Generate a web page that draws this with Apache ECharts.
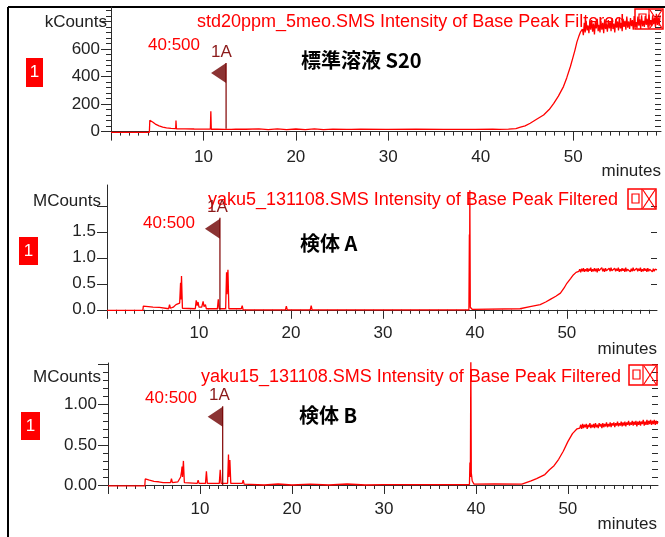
<!DOCTYPE html>
<html>
<head>
<meta charset="utf-8">
<script src="https://cdn.jsdelivr.net/npm/echarts@6/dist/echarts.min.js"></script>
<style>
html, body { margin: 0; padding: 0; background: #fff; }
#chart { width: 665px; height: 537px; }
</style>
</head>
<body>
<div id="chart"></div>
<script>
// traces: [minutes, intensity]
const stdTrace = [
    [0, -5], [4.15, -5], [4.2, 82], [4.5, 70], [4.8, 55], [5.2, 42], [5.6, 33], [6.0, 27], [6.5, 24],
    [7.0, 22], [7.03, 80], [7.08, 20], [8.0, 20], [9.0, 19], [10.75, 18], [10.8, 148], [10.85, 17],
    [11.5, 17], [12.3, 16], [13.0, 16], [13.5, 18], [14.6, 17], [14.65, 30], [14.7, 17], [16.0, 20],
    [17.0, 14], [18.0, 20], [19.0, 15], [20.0, 19], [21.0, 14], [22.0, 20], [23.0, 15], [24.0, 18],
    [25.5, 16], [25.55, 28], [26.0, 16], [27.0, 17], [29.7, 16], [29.75, 27], [30.0, 16], [33.0, 17],
    [36.0, 16], [39.4, 16], [39.45, 26], [39.5, 16], [41.3, 17], [41.4, 25], [42.0, 16], [43.0, 18],
    [43.8, 22], [44.3, 32], [44.8, 42], [45.35, 61], [46.0, 88], [46.8, 121], [47.4, 160], [47.9, 205],
    [48.4, 258], [48.95, 327], [49.3, 390], [49.7, 473], [50.0, 545], [50.2, 594], [50.4, 650],
    [50.6, 690], [50.8, 725],
    [51.0, 745], [51.1, 700], [51.2, 790], [51.3, 720], [51.4, 805], [51.5, 735], [51.6, 770], [51.7, 715], [51.8, 800], [51.9, 740],
    [52.0, 810], [52.1, 725], [52.2, 785], [52.3, 705], [52.4, 795], [52.5, 750], [52.6, 820], [52.7, 730], [52.8, 775], [52.9, 720],
    [53.0, 805], [53.1, 740], [53.2, 790], [53.3, 715], [53.4, 815], [53.5, 745], [53.6, 780], [53.7, 725], [53.8, 810], [53.9, 750],
    [54.0, 795], [54.1, 730], [54.2, 825], [54.3, 745], [54.4, 785], [54.5, 720], [54.6, 815], [54.7, 755], [54.8, 800], [54.9, 735],
    [55.0, 830], [55.1, 750], [55.2, 790], [55.3, 730], [55.4, 820], [55.5, 760], [55.6, 805], [55.7, 740], [55.8, 835], [55.9, 755],
    [56.0, 800], [56.1, 745], [56.2, 825], [56.3, 765], [56.4, 810], [56.5, 740], [56.6, 840], [56.7, 760], [56.8, 795], [56.9, 750],
    [57.0, 835], [57.1, 770], [57.2, 815], [57.3, 745], [57.4, 845], [57.5, 765], [57.6, 805], [57.7, 760], [57.8, 840], [57.9, 775],
    [58.0, 820], [58.1, 755], [58.2, 850], [58.3, 770], [58.4, 810], [58.5, 765], [58.6, 845], [58.7, 780], [58.8, 825], [58.9, 760],
    [59.0, 855], [59.1, 775], [59.2, 830], [59.3, 770], [59.4, 845]
];
const sampleATrace = [
    [0, -0.01], [3.9, -0.01], [3.95, 0.07], [4.5, 0.06], [5.0, 0.05], [5.7, 0.045], [5.8, 0.02],
    [6.7, 0.02], [6.8, 0.1], [6.9, 0.03], [7.2, 0.05], [7.5, 0.1], [7.7, 0.12], [7.9, 0.13],
    [8.0, 0.52], [8.05, 0.2], [8.1, 0.65], [8.2, 0.03], [9.6, 0.02], [9.7, 0.18], [9.8, 0.08],
    [9.9, 0.15], [10.0, 0.05], [10.3, 0.05], [10.45, 0.16], [10.55, 0.06], [10.7, 0.1], [10.8, 0.02],
    [12.0, 0.02], [12.1, 0.2], [12.2, 0.02], [12.9, 0.02], [13.0, 0.72], [13.05, 0.3], [13.15, 0.77],
    [13.25, 0.02], [14.6, 0.02], [14.7, 0.08], [14.8, 0.0], [19.4, 0.0], [19.5, 0.07], [19.6, 0.0],
    [22.1, 0.0], [22.2, 0.08], [22.3, 0.0], [39.35, 0.0], [39.4, 1.45], [39.42, 0.3], [39.45, 2.3],
    [39.5, 0.05], [39.7, 0.01], [44.9, 0.02], [46.0, 0.06], [47.1, 0.1], [47.7, 0.15], [48.2, 0.2],
    [48.8, 0.26], [49.3, 0.32], [49.7, 0.42], [50.0, 0.51], [50.4, 0.6], [50.7, 0.67], [51.0, 0.72],
    [51.2, 0.74],
    [51.3, 0.74], [51.4, 0.78], [51.5, 0.72], [51.6, 0.79], [51.7, 0.74], [51.8, 0.80], [51.9, 0.73],
    [52.0, 0.78], [52.1, 0.74], [52.2, 0.80], [52.3, 0.73], [52.4, 0.79], [52.5, 0.75], [52.6, 0.81], [52.7, 0.73], [52.8, 0.78], [52.9, 0.74],
    [53.0, 0.80], [53.1, 0.74], [53.2, 0.79], [53.3, 0.72], [53.4, 0.80], [53.5, 0.75], [53.6, 0.78], [53.7, 0.73], [53.8, 0.81], [53.9, 0.74],
    [54.0, 0.79], [54.1, 0.73], [54.2, 0.80], [54.3, 0.75], [54.4, 0.78], [54.5, 0.72], [54.6, 0.80], [54.7, 0.74], [54.8, 0.81], [54.9, 0.75],
    [55.0, 0.78], [55.1, 0.73], [55.2, 0.80], [55.3, 0.74], [55.4, 0.79], [55.5, 0.75], [55.6, 0.81], [55.7, 0.73], [55.8, 0.78], [55.9, 0.74],
    [56.0, 0.80], [56.1, 0.75], [56.2, 0.79], [56.3, 0.73], [56.4, 0.81], [56.5, 0.74], [56.6, 0.78], [56.7, 0.75], [56.8, 0.80], [56.9, 0.73],
    [57.0, 0.79], [57.1, 0.74], [57.2, 0.81], [57.3, 0.75], [57.4, 0.78], [57.5, 0.73], [57.6, 0.80], [57.7, 0.74], [57.8, 0.79], [57.9, 0.75],
    [58.0, 0.81], [58.1, 0.73], [58.2, 0.78], [58.3, 0.74], [58.4, 0.80], [58.5, 0.75], [58.6, 0.79], [58.7, 0.73], [58.8, 0.80], [58.9, 0.74],
    [59.0, 0.78], [59.1, 0.75], [59.2, 0.80], [59.3, 0.73], [59.4, 0.79], [59.5, 0.74], [59.6, 0.78], [59.7, 0.75], [59.8, 0.77]
];
const sampleBTrace = [
    [0, -0.012], [4.0, -0.012], [4.05, 0.075], [4.5, 0.06], [5.0, 0.045], [5.5, 0.04], [6.0, 0.03],
    [6.8, 0.03], [6.9, 0.08], [7.0, 0.03], [7.6, 0.04], [7.9, 0.1], [8.0, 0.17], [8.05, 0.23],
    [8.1, 0.1], [8.2, 0.3], [8.3, 0.03], [9.7, 0.02], [9.8, 0.06], [9.9, 0.02], [10.6, 0.02],
    [10.7, 0.17], [10.8, 0.02], [12.1, 0.02], [12.2, 0.19], [12.3, 0.02], [13.0, 0.02], [13.1, 0.38],
    [13.15, 0.1], [13.25, 0.31], [13.35, 0.02], [14.6, 0.02], [14.7, 0.06], [14.8, 0.01], [17.0, 0.0],
    [18.5, 0.012], [20.0, 0.0], [22.0, 0.01], [24.0, 0.0], [26.0, 0.012], [28.0, 0.0], [30.0, 0.005],
    [39.3, 0.005], [39.35, 0.28], [39.4, 0.1], [39.45, 1.6], [39.5, 0.15], [39.6, 0.05], [39.8, 0.01],
    [42.0, 0.012], [45.0, 0.01], [46.0, 0.05], [46.6, 0.08], [47.5, 0.13], [48.0, 0.19], [48.5, 0.24],
    [49.0, 0.32], [49.5, 0.42], [50.0, 0.54], [50.5, 0.64], [51.0, 0.70], [51.2, 0.72],
    [51.3, 0.71], [51.4, 0.75], [51.5, 0.70], [51.6, 0.76], [51.7, 0.71], [51.8, 0.75], [51.9, 0.72],
    [52.0, 0.76], [52.1, 0.70], [52.2, 0.75], [52.3, 0.72], [52.4, 0.77], [52.5, 0.71], [52.6, 0.75], [52.7, 0.72], [52.8, 0.76], [52.9, 0.71],
    [53.0, 0.77], [53.1, 0.72], [53.2, 0.75], [53.3, 0.71], [53.4, 0.77], [53.5, 0.73], [53.6, 0.76], [53.7, 0.71], [53.8, 0.77], [53.9, 0.72],
    [54.0, 0.76], [54.1, 0.73], [54.2, 0.78], [54.3, 0.72], [54.4, 0.76], [54.5, 0.73], [54.6, 0.78], [54.7, 0.72], [54.8, 0.77], [54.9, 0.74],
    [55.0, 0.78], [55.1, 0.72], [55.2, 0.77], [55.3, 0.74], [55.4, 0.79], [55.5, 0.73], [55.6, 0.77], [55.7, 0.74], [55.8, 0.79], [55.9, 0.73],
    [56.0, 0.78], [56.1, 0.74], [56.2, 0.79], [56.3, 0.73], [56.4, 0.78], [56.5, 0.75], [56.6, 0.80], [56.7, 0.74], [56.8, 0.78], [56.9, 0.75],
    [57.0, 0.80], [57.1, 0.74], [57.2, 0.79], [57.3, 0.75], [57.4, 0.80], [57.5, 0.73], [57.6, 0.79], [57.7, 0.75], [57.8, 0.80], [57.9, 0.74],
    [58.0, 0.79], [58.1, 0.76], [58.2, 0.81], [58.3, 0.74], [58.4, 0.79], [58.5, 0.75], [58.6, 0.81], [58.7, 0.75], [58.8, 0.80], [58.9, 0.76],
    [59.0, 0.81], [59.1, 0.75], [59.2, 0.80], [59.3, 0.76], [59.4, 0.81], [59.5, 0.75], [59.6, 0.80], [59.7, 0.76], [59.8, 0.79]
];

// "1A" marker: retention time, pole base, pole top, flag centre
const markerTime = [12.45, 12.28, 12.47];
const markerBase = [20, 0, 0];
const markerTop = [499, 1.77, 0.98];
const markerFlag = [426, 1.56, 0.85];

// axis ranges and ticks
const xMax = [59.5, 59.8, 59.8];
const xMajor = [0, 10, 20, 30, 40, 50];
const xLabels = [10, 20, 30, 40, 50];
const yMin = [-50, -0.1, -0.075];
const yMax = [905, 2.4, 1.52];
const yMajor = [[0, 200, 400, 600, 800], [0, 0.5, 1, 1.5, 2], [0, 0.5, 1, 1.5]];
const yLabels = [[0, 200, 400, 600], [0, 0.5, 1, 1.5], [0, 0.5, 1]];
const yMinor = [
    [40, 80, 120, 160, 240, 280, 320, 360, 440, 480, 520, 560, 640, 680, 720, 760, 840, 880],
    [],
    [0.1, 0.2, 0.3, 0.4, 0.6, 0.7, 0.8, 0.9, 1.1, 1.2, 1.3, 1.4]
];
const yDigits = [0, 1, 2];
const yUnits = ['kCounts', 'MCounts', 'MCounts'];
const fileTitles = [
    'std20ppm_5meo.SMS Intensity of Base Peak Filtered',
    'yaku5_131108.SMS Intensity of Base Peak Filtered',
    'yaku15_131108.SMS Intensity of Base Peak Filtered'
];
const sampleNames = ['標準溶液 S20', '検体 A', '検体 B'];
const traces = [stdTrace, sampleATrace, sampleBTrace];

// layout of the three panels (pixels)
const panels = [
    {left: 111, top: 7, width: 550, height: 131.5, title: [197, 22], unit: [107, 22], badge: [26, 58, 17, 29],
        id: [211, 52], range: [148, 45], name: [301, 60], minutes: [661, 171], icon: [635, 9]},
    {left: 107, top: 185, width: 550, height: 130, title: [208, 200], unit: [101, 201], badge: [19, 237, 19, 28],
        id: [207, 207], range: [143, 223], name: [300, 243], minutes: [657, 349], icon: [628, 189]},
    {left: 108, top: 363, width: 550, height: 128, title: [201, 377], unit: [101, 377], badge: [21, 412, 19, 28],
        id: [209, 395], range: [145, 398], name: [299, 415], minutes: [657, 524], icon: [629, 365]}
];

const red = '#ff0000';
const axisColor = '#2b2b2b';
const font = '"Liberation Sans", Arial, sans-serif';

let minorMinutes = [];
for (let m = 1; m < 60; m++) {
    if (m % 10 !== 0) minorMinutes.push(m);
}

let grids = [], xAxes = [], yAxes = [], series = [], graphics = [];

panels.forEach(function (p, i) {
    grids.push({left: p.left, top: p.top, width: p.width, height: p.height});

    xAxes.push({
        gridIndex: i, type: 'value', min: 0, max: xMax[i], position: 'bottom',
        axisLine: {lineStyle: {color: axisColor, width: 1}},
        axisTick: {customValues: xMajor, length: 9, lineStyle: {color: axisColor}},
        axisLabel: {customValues: xLabels, color: '#222', fontSize: 17, fontFamily: font, margin: 10},
        splitLine: {show: false}
    });
    xAxes.push({
        gridIndex: i, type: 'value', min: 0, max: xMax[i], position: 'bottom',
        axisLine: {show: false},
        axisTick: {customValues: minorMinutes, length: 4, lineStyle: {color: axisColor}},
        axisLabel: {show: false},
        splitLine: {show: false}
    });

    yAxes.push({
        gridIndex: i, type: 'value', min: yMin[i], max: yMax[i], position: 'left',
        axisLine: {show: true, lineStyle: {color: axisColor, width: 1}},
        axisTick: {customValues: yMajor[i], length: 10, lineStyle: {color: axisColor}},
        axisLabel: {
            customValues: yLabels[i], color: '#222', fontSize: 17, fontFamily: font, margin: 11,
            formatter: function (v) { return Number(v).toFixed(yDigits[i]); }
        },
        splitLine: {show: false}
    });
    yAxes.push({
        gridIndex: i, type: 'value', min: yMin[i], max: yMax[i], position: 'left',
        axisLine: {show: false},
        axisTick: {show: yMinor[i].length > 0, customValues: yMinor[i], length: 5, lineStyle: {color: axisColor}},
        axisLabel: {show: false},
        splitLine: {show: false}
    });
    yAxes.push({
        gridIndex: i, type: 'value', min: yMin[i], max: yMax[i], position: 'right',
        axisLine: {show: false},
        axisTick: {inside: true, customValues: yMajor[i].concat(yMinor[i]), length: 6, lineStyle: {color: axisColor}},
        axisLabel: {show: false},
        splitLine: {show: false}
    });

    series.push({
        type: 'line', xAxisIndex: 2 * i, yAxisIndex: 3 * i,
        data: traces[i], showSymbol: false, symbol: 'none',
        lineStyle: {color: red, width: 1.3}, z: 3
    });
    series.push({
        type: 'line', xAxisIndex: 2 * i, yAxisIndex: 3 * i,
        data: [[markerTime[i], markerBase[i]], [markerTime[i], markerTop[i]]],
        showSymbol: false, symbol: 'none',
        lineStyle: {color: '#800000', width: 1.2}, z: 4
    });
    series.push({
        type: 'scatter', xAxisIndex: 2 * i, yAxisIndex: 3 * i,
        data: [[markerTime[i], markerFlag[i]]],
        symbol: 'path://M10,0 L10,20 L0,10 Z', symbolSize: [15, 20], symbolOffset: [-7.5, 0],
        itemStyle: {color: '#6e0000'}, z: 4
    });

    // panel annotations
    graphics.push({type: 'text', x: p.title[0], y: p.title[1], z: 1,
        style: {text: fileTitles[i], fill: red, font: '18px ' + font, textVerticalAlign: 'middle'}});
    graphics.push({type: 'text', x: p.unit[0], y: p.unit[1],
        style: {text: yUnits[i], fill: '#222', font: '17px ' + font, textAlign: 'right', textVerticalAlign: 'middle'}});
    graphics.push({type: 'rect', shape: {x: p.badge[0], y: p.badge[1], width: p.badge[2], height: p.badge[3]},
        style: {fill: red}});
    graphics.push({type: 'text', x: p.badge[0] + p.badge[2] / 2, y: p.badge[1] + p.badge[3] / 2,
        style: {text: '1', fill: '#fff', font: '17px ' + font, textAlign: 'center', textVerticalAlign: 'middle'}});
    graphics.push({type: 'text', x: p.id[0], y: p.id[1], z: 5,
        style: {text: '1A', fill: '#8b1a1a', font: '17px ' + font, textVerticalAlign: 'middle'}});
    graphics.push({type: 'text', x: p.range[0], y: p.range[1],
        style: {text: '40:500', fill: red, font: '17px ' + font, textVerticalAlign: 'middle'}});
    graphics.push({type: 'text', x: p.name[0], y: p.name[1],
        style: {text: sampleNames[i], fill: '#000', font: 'bold 20px "Noto Sans CJK JP"', textVerticalAlign: 'middle'}});
    graphics.push({type: 'text', x: p.minutes[0], y: p.minutes[1],
        style: {text: 'minutes', fill: '#222', font: '17px ' + font, textAlign: 'right', textVerticalAlign: 'middle'}});

    // the little restore / close box in the corner
    let ix = p.icon[0], iy = p.icon[1];
    graphics.push({type: 'rect', shape: {x: ix, y: iy, width: 28, height: 20}, z: 1,
        style: {fill: 'none', stroke: red, lineWidth: 1.5}});
    graphics.push({type: 'line', shape: {x1: ix + 14, y1: iy, x2: ix + 14, y2: iy + 20}, z: 1,
        style: {stroke: red, lineWidth: 1.2}});
    graphics.push({type: 'rect', shape: {x: ix + 4, y: iy + 5, width: 7, height: 9}, z: 1,
        style: {fill: 'none', stroke: red, lineWidth: 1.2}});
    graphics.push({type: 'line', shape: {x1: ix + 15, y1: iy + 1, x2: ix + 27, y2: iy + 19}, z: 1,
        style: {stroke: red, lineWidth: 1.2}});
    graphics.push({type: 'line', shape: {x1: ix + 27, y1: iy + 1, x2: ix + 15, y2: iy + 19}, z: 1,
        style: {stroke: red, lineWidth: 1.2}});
});

// outer frame, left and top edges
graphics.push({type: 'line', shape: {x1: 8, y1: 7, x2: 8, y2: 537}, style: {stroke: '#000', lineWidth: 2}});
graphics.push({type: 'line', shape: {x1: 8, y1: 7, x2: 665, y2: 7}, style: {stroke: '#000', lineWidth: 2}});

let chart = echarts.init(document.getElementById('chart'));
chart.setOption({
    animation: false,
    backgroundColor: '#fff',
    grid: grids,
    xAxis: xAxes,
    yAxis: yAxes,
    series: series,
    graphic: {elements: graphics}
});
</script>
</body>
</html>
